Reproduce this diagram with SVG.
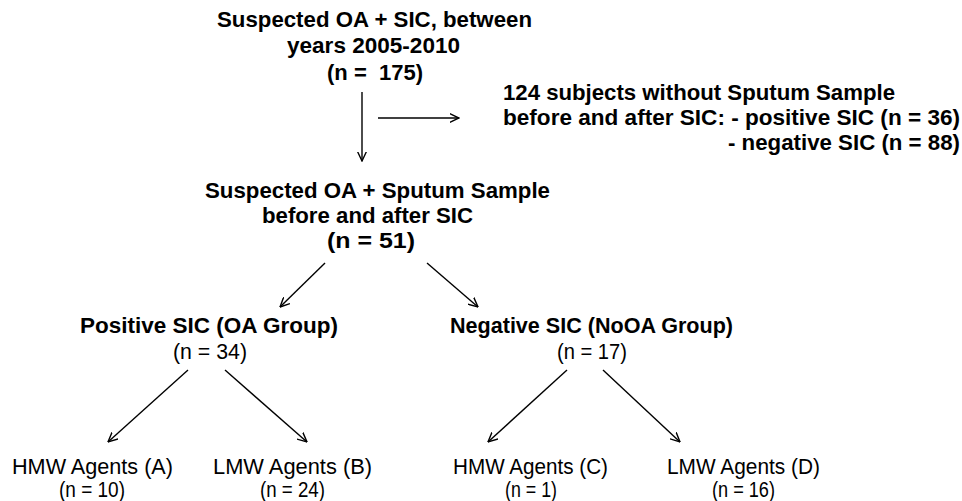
<svg xmlns="http://www.w3.org/2000/svg" width="962" height="501" viewBox="0 0 962 501">
<style>
text{font-family:"Liberation Sans",Arial,sans-serif;fill:#000;white-space:pre}
.b{font-weight:bold;font-size:22px}
.r{font-size:21.5px}
.ln{stroke:#000;stroke-width:1.4;fill:none;marker-end:url(#ah)}
</style>
<defs>
<marker id="ah" viewBox="0 0 10 10" refX="9.5" refY="5" markerWidth="10" markerHeight="10" markerUnits="userSpaceOnUse" orient="auto">
<path d="M0,0.5 L9.5,5 L0,9.5" fill="none" stroke="#000" stroke-width="1.4"/>
</marker>
</defs>
<rect width="962" height="501" fill="#fff"/>
<g id="connectors">
<line class="ln" x1="362" y1="92" x2="362" y2="161"/>
<line class="ln" x1="378" y1="118" x2="459" y2="118"/>
<line class="ln" x1="325" y1="263" x2="280" y2="307"/>
<line class="ln" x1="427" y1="263" x2="478" y2="307"/>
<line class="ln" x1="188" y1="370" x2="108" y2="442"/>
<line class="ln" x1="225" y1="370" x2="307" y2="442"/>
<line class="ln" x1="567" y1="370" x2="488" y2="442"/>
<line class="ln" x1="603" y1="370" x2="680" y2="442"/>
</g>
<g id="n-start">
<text class="b" x="217" y="27" textLength="315" lengthAdjust="spacingAndGlyphs">Suspected OA + SIC, between</text>
<text class="b" x="287" y="53" textLength="173" lengthAdjust="spacingAndGlyphs">years 2005-2010</text>
<text class="b" x="327" y="80" textLength="96" lengthAdjust="spacingAndGlyphs">(n =  175)</text>
</g>
<g id="n-excluded">
<text class="b" x="503" y="100" textLength="392" lengthAdjust="spacingAndGlyphs">124 subjects without Sputum Sample</text>
<text class="b" x="503" y="125" textLength="457" lengthAdjust="spacingAndGlyphs">before and after SIC: - positive SIC (n = 36)</text>
<text class="b" x="728" y="150" textLength="232" lengthAdjust="spacingAndGlyphs">- negative SIC (n = 88)</text>
</g>
<g id="n-sputum">
<text class="b" x="205" y="198" textLength="345" lengthAdjust="spacingAndGlyphs">Suspected OA + Sputum Sample</text>
<text class="b" x="262" y="223" textLength="211" lengthAdjust="spacingAndGlyphs">before and after SIC</text>
<text class="b" x="327" y="248" textLength="88" lengthAdjust="spacingAndGlyphs">(n = 51)</text>
</g>
<g id="n-positive">
<text class="b" x="80" y="333" textLength="258" lengthAdjust="spacingAndGlyphs">Positive SIC (OA Group)</text>
<text class="r" x="173" y="359" textLength="74" lengthAdjust="spacingAndGlyphs">(n = 34)</text>
</g>
<g id="n-negative">
<text class="b" x="450" y="333" textLength="283" lengthAdjust="spacingAndGlyphs">Negative SIC (NoOA Group)</text>
<text class="r" x="557" y="359" textLength="70" lengthAdjust="spacingAndGlyphs">(n = 17)</text>
</g>
<g id="n-hmw-a">
<text class="r" x="12" y="474" textLength="161" lengthAdjust="spacingAndGlyphs">HMW Agents (A)</text>
<text class="r" x="59" y="497" textLength="66" lengthAdjust="spacingAndGlyphs">(n = 10)</text>
</g>
<g id="n-lmw-b">
<text class="r" x="213" y="474" textLength="159" lengthAdjust="spacingAndGlyphs">LMW Agents (B)</text>
<text class="r" x="260" y="497" textLength="65" lengthAdjust="spacingAndGlyphs">(n = 24)</text>
</g>
<g id="n-hmw-c">
<text class="r" x="453" y="474" textLength="155" lengthAdjust="spacingAndGlyphs">HMW Agents (C)</text>
<text class="r" x="505" y="497" textLength="52" lengthAdjust="spacingAndGlyphs">(n = 1)</text>
</g>
<g id="n-lmw-d">
<text class="r" x="667" y="474" textLength="153" lengthAdjust="spacingAndGlyphs">LMW Agents (D)</text>
<text class="r" x="712" y="497" textLength="63" lengthAdjust="spacingAndGlyphs">(n = 16)</text>
</g>
</svg>
